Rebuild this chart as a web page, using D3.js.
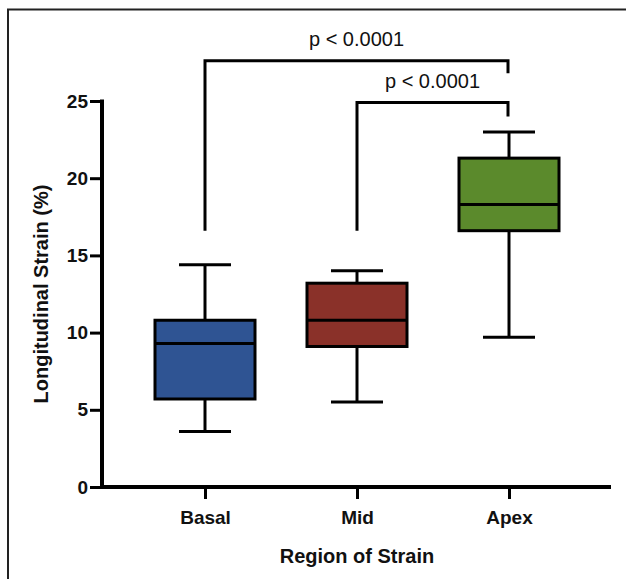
<!DOCTYPE html>
<html>
<head>
<meta charset="utf-8">
<script src="https://cdn.jsdelivr.net/npm/d3@7/dist/d3.min.js"></script>
<style>
  html, body { margin: 0; padding: 0; background: #fff; overflow: hidden; }
  svg { display: block; overflow: hidden; }
  text { font-family: "Liberation Sans", Arial, Helvetica, sans-serif; fill: #111; }
</style>
</head>
<body>
<svg id="chart" width="626" height="579"></svg>
<script>
// Regions of the heart where longitudinal strain was measured
const categories = ["Basal", "Mid", "Apex"];
// Five-number summaries per region: whisker low, Q1, median, Q3, whisker high
const whiskerLow  = [3.6, 5.5, 9.7];
const quartile1   = [5.7, 9.1, 16.6];
const medians     = [9.3, 10.8, 18.3];
const quartile3   = [10.8, 13.2, 21.3];
const whiskerHigh = [14.4, 14.0, 23.0];
const boxColors   = ["#2f5493", "#8a3129", "#5b8a2c"];
const yTicks      = [0, 5, 10, 15, 20, 25];
// Pairwise comparisons shown above the boxes
const compareFrom   = ["Basal", "Mid"];
const compareTo     = ["Apex", "Apex"];
const compareLabels = ["p < 0.0001", "p < 0.0001"];

const svg = d3.select("#chart");

// Frame edges (top and left) around the figure
svg.append("path")
  .attr("d", "M8,579V9.5H626")
  .attr("fill", "none").attr("stroke", "#222").attr("stroke-width", 2);

const x = d3.scalePoint().domain(categories).range([205, 509]);
const y = d3.scaleLinear().domain([0, 25]).range([487, 101]);
const axisLeftX = 102, axisRightX = 611;

const boxes = categories.map((c, i) => ({
  cat: c, lo: whiskerLow[i], q1: quartile1[i], med: medians[i],
  q3: quartile3[i], hi: whiskerHigh[i], color: boxColors[i]
}));

const boxW = 100, capW = 52, lw = 3;

const g = svg.append("g");
const box = g.selectAll("g.box").data(boxes).join("g").attr("class", "box");

// whisker stems
box.append("line")
  .attr("x1", d => x(d.cat)).attr("x2", d => x(d.cat))
  .attr("y1", d => y(d.hi)).attr("y2", d => y(d.q3))
  .attr("stroke", "#000").attr("stroke-width", lw);
box.append("line")
  .attr("x1", d => x(d.cat)).attr("x2", d => x(d.cat))
  .attr("y1", d => y(d.q1)).attr("y2", d => y(d.lo))
  .attr("stroke", "#000").attr("stroke-width", lw);
// whisker caps
box.append("line")
  .attr("x1", d => x(d.cat) - capW / 2).attr("x2", d => x(d.cat) + capW / 2)
  .attr("y1", d => y(d.hi)).attr("y2", d => y(d.hi))
  .attr("stroke", "#000").attr("stroke-width", lw);
box.append("line")
  .attr("x1", d => x(d.cat) - capW / 2).attr("x2", d => x(d.cat) + capW / 2)
  .attr("y1", d => y(d.lo)).attr("y2", d => y(d.lo))
  .attr("stroke", "#000").attr("stroke-width", lw);
// interquartile box
box.append("rect")
  .attr("x", d => x(d.cat) - boxW / 2).attr("width", boxW)
  .attr("y", d => y(d.q3)).attr("height", d => y(d.q1) - y(d.q3))
  .attr("fill", d => d.color).attr("stroke", "#000").attr("stroke-width", lw);
// median
box.append("line")
  .attr("x1", d => x(d.cat) - boxW / 2).attr("x2", d => x(d.cat) + boxW / 2)
  .attr("y1", d => y(d.med)).attr("y2", d => y(d.med))
  .attr("stroke", "#000").attr("stroke-width", lw);

// Y axis
const yAxis = svg.append("g")
  .attr("transform", `translate(${axisLeftX},0)`)
  .call(d3.axisLeft(y).tickValues(yTicks).tickSize(12).tickSizeOuter(0).tickPadding(2));
yAxis.select(".domain").attr("stroke", "#000").attr("stroke-width", 4)
  .attr("d", `M0,${y(25) - 1.5}V${y(0) + 2}`);
yAxis.selectAll(".tick line").attr("stroke", "#000").attr("stroke-width", 3);
yAxis.selectAll(".tick text")
  .style("font-family", '"Liberation Sans", Arial, sans-serif')
  .style("font-size", "19px").style("font-weight", "bold").attr("fill", "#111");

// X axis
const xAxis = svg.append("g")
  .attr("transform", `translate(0,${y(0)})`)
  .call(d3.axisBottom(x).tickSize(12).tickSizeOuter(0).tickPadding(12));
xAxis.select(".domain").attr("stroke", "#000").attr("stroke-width", 4)
  .attr("d", `M${axisLeftX - 2},0H${axisRightX}`);
xAxis.selectAll(".tick line").attr("stroke", "#000").attr("stroke-width", 3);
xAxis.selectAll(".tick text")
  .style("font-family", '"Liberation Sans", Arial, sans-serif')
  .style("font-size", "19px").style("font-weight", "bold").attr("fill", "#111");

// Axis titles
svg.append("text")
  .attr("x", 357).attr("y", 563)
  .attr("text-anchor", "middle")
  .style("font-size", "20px").style("font-weight", "bold")
  .text("Region of Strain");
svg.append("text")
  .attr("transform", `translate(48,${(y(0) + y(25)) / 2}) rotate(-90)`)
  .attr("text-anchor", "middle")
  .style("font-size", "20px").style("font-weight", "bold")
  .text("Longitudinal Strain (%)");

// Significance brackets (heights in data units)
const bracketTop  = [27.6, 24.9];
const bracketLeft = [16.6, 16.6];
const bracketRight = [26.8, 24.0];
compareLabels.forEach((lab, i) => {
  const x1 = x(compareFrom[i]), x2 = x(compareTo[i]) - 1;
  svg.append("path")
    .attr("d", `M${x1},${y(bracketLeft[i])}V${y(bracketTop[i])}H${x2}V${y(bracketRight[i])}`)
    .attr("fill", "none").attr("stroke", "#000").attr("stroke-width", 3)
    .attr("stroke-linejoin", "miter");
  svg.append("text")
    .attr("x", (x1 + x2) / 2).attr("y", y(bracketTop[i]) - 15)
    .attr("text-anchor", "middle")
    .style("font-size", "20px")
    .text(lab);
});
</script>
</body>
</html>
